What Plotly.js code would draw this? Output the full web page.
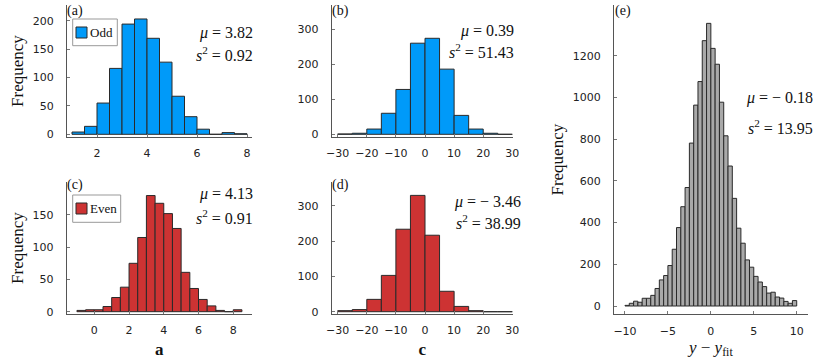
<!DOCTYPE html>
<html>
<head>
<meta charset="utf-8">
<script src="https://cdn.plot.ly/plotly-3.0.1.min.js"></script>
<style>
  html, body { margin: 0; padding: 0; background: #fff; }
  #chart { width: 830px; height: 363px; }
</style>
</head>
<body>
<div id="chart"></div>
<script>
// histogram counts, one array per panel
// (a) / (c): variable a, bins of 0.5
var oddAStart = 1;
var evenAStart = -1;
var aWidth = 0.5;
var oddA = [4, 14, 55, 116, 194, 203, 169, 127, 67, 31, 9, 0, 3, 1];
var evenA = [2, 3, 3, 8, 22, 38, 75, 115, 180, 168, 152, 129, 61, 36, 19, 9, 2, 0, 3];

// (b) / (d): variable c, bins of 5
var cStart = -30;
var cWidth = 5;
var oddC = [1, 3, 15, 60, 128, 260, 274, 186, 54, 15, 3, 0];
var evenC = [3, 6, 35, 103, 234, 330, 217, 58, 15, 3, 0, 0];

// (e): residuals y - y_fit, bins of 0.5
var residStart = -10;
var residWidth = 0.5;
var resid = [3, 13, 23, 18, 37, 37, 51, 84, 125, 146, 194, 272, 376, 476, 568,
             781, 963, 1076, 1272, 1355, 1235, 1159, 977, 816, 671,
             516, 373, 301, 221, 186, 142, 115, 93, 62, 66, 43, 38, 22, 13, 26];

// summary stats printed on each panel
var statsMu = ['3.82', '0.39', '4.13', '\u2212 3.46', '\u2212 0.18'];
var statsS2 = ['0.92', '51.43', '0.91', '38.99', '13.95'];

var blue = '#009af9';
var red = '#cd3333';
var grey = '#a9a9a9';
var edge = '#2a2a2a';

function centers(start, width, counts) {
    return counts.map(function (c, i) { return start + width * (i + 0.5); });
}

function histTrace(start, width, counts, color, xa, ya) {
    return {
        type: 'bar',
        x: centers(start, width, counts),
        y: counts,
        width: width,
        xaxis: xa,
        yaxis: ya,
        marker: { color: color, line: { color: edge, width: 1 } },
        showlegend: false,
        hoverinfo: 'x+y'
    };
}

var data = [
    histTrace(oddAStart, aWidth, oddA, blue, 'x', 'y'),
    histTrace(cStart, cWidth, oddC, blue, 'x2', 'y2'),
    histTrace(evenAStart, aWidth, evenA, red, 'x3', 'y3'),
    histTrace(cStart, cWidth, evenC, red, 'x4', 'y4'),
    histTrace(residStart, residWidth, resid, grey, 'x5', 'y5')
];

// pixel -> paper helpers (page is 830 x 363, no margins)
var W = 830, H = 363;
function px(x) { return x / W; }
function py(y) { return 1 - y / H; }

var tickFont = { family: 'DejaVu Sans', size: 11, color: '#222' };
var serif = 'Liberation Serif, DejaVu Serif, serif';

function axis(extra) {
    var a = {
        showline: true,
        linecolor: '#555',
        linewidth: 1,
        showgrid: false,
        zeroline: false,
        ticks: 'inside',
        ticklen: 3,
        tickcolor: '#777',
        tickfont: tickFont,
        fixedrange: true
    };
    for (var k in extra) a[k] = extra[k];
    return a;
}
function xax(extra) { extra.ticklabelstandoff = 6; return axis(extra); }
function yax(extra) { extra.ticklabelstandoff = 10; return axis(extra); }

var freqTitle = { text: 'Frequency', font: { family: serif, size: 17, color: '#111' }, standoff: 4 };
var xTitleFont = { family: serif, size: 17, color: '#111' };

var layout = {
    width: W,
    height: H,
    margin: { l: 0, r: 0, t: 0, b: 0 },
    paper_bgcolor: '#fff',
    plot_bgcolor: '#fff',
    bargap: 0,
    xaxis: xax({ domain: [px(67), px(252)], range: [0.8, 8.2], tickvals: [2, 4, 6, 8], anchor: 'y' }),
    yaxis: yax({ domain: [py(137), py(5)], range: [-4.75, 227.6], tickvals: [0, 50, 100, 150, 200], anchor: 'x',
                 title: freqTitle }),
    xaxis2: xax({ domain: [px(331.7), px(512.9)], range: [-32.06, 30.2], tickvals: [-30, -20, -10, 0, 10, 20, 30], anchor: 'y2' }),
    yaxis2: yax({ domain: [py(137), py(5)], range: [-7.7, 369], tickvals: [0, 100, 200, 300], anchor: 'x2' }),
    xaxis3: xax({ domain: [px(66.7), px(252)], range: [-1.59, 9.08], tickvals: [0, 2, 4, 6, 8], anchor: 'y3',
                  title: { text: '<b>a</b>', font: xTitleFont, standoff: 6 } }),
    yaxis3: yax({ domain: [py(314), py(182)], range: [-3.57, 201], tickvals: [0, 50, 100, 150], anchor: 'x3',
                  title: freqTitle }),
    xaxis4: xax({ domain: [px(331.7), px(512.9)], range: [-32.06, 30.2], tickvals: [-30, -20, -10, 0, 10, 20, 30], anchor: 'y4',
                  title: { text: '<b>c</b>', font: xTitleFont, standoff: 6 } }),
    yaxis4: yax({ domain: [py(314), py(182)], range: [-6.5, 368], tickvals: [0, 100, 200, 300], anchor: 'x4' }),
    xaxis5: xax({ domain: [px(614), px(807.7)], range: [-11.28, 11.28], tickvals: [-10, -5, 0, 5, 10], anchor: 'y5',
                  title: { text: '<i>y</i> \u2212 <i>y</i><sub>fit</sub>', font: xTitleFont, standoff: 4 } }),
    yaxis5: yax({ domain: [py(314.3), py(5)], range: [-39.8, 1443], tickvals: [0, 200, 400, 600, 800, 1000, 1200], anchor: 'x5',
                  title: freqTitle }),
    shapes: [],
    annotations: []
};

// panel letters
var letters = [['(a)', 65, 11], ['(b)', 330, 11], ['(c)', 65, 185], ['(d)', 330, 185], ['(e)', 613, 11]];
letters.forEach(function (l) {
    layout.annotations.push({
        text: l[0], xref: 'paper', yref: 'paper', x: px(l[1]), y: py(l[2]),
        xanchor: 'left', yanchor: 'middle', showarrow: false,
        font: { family: serif, size: 14, color: '#111' }
    });
});

// mean / variance text, right aligned
var statPos = [[255, 33, 54], [516, 31, 51], [255, 194, 217], [523, 202, 222], [815, 98, 127]];
statPos.forEach(function (p, i) {
    var f = { family: serif, size: 16, color: '#111' };
    layout.annotations.push({
        text: '<i>\u03bc</i> = ' + statsMu[i], xref: 'paper', yref: 'paper',
        x: px(p[0]), y: py(p[1]), xanchor: 'right', yanchor: 'middle', showarrow: false, font: f
    });
    layout.annotations.push({
        text: '<i>s</i><sup>2</sup> = ' + statsS2[i], xref: 'paper', yref: 'paper',
        x: px(p[0]), y: py(p[2]), xanchor: 'right', yanchor: 'middle', showarrow: false, font: f
    });
});

// legend boxes (drawn by hand, plotly's legend is too wide here)
var legends = [
    { label: 'Odd', color: blue, box: [72.7, 19, 117.3, 45.7], sw: [76, 27, 87, 38] },
    { label: 'Even', color: red, box: [72.7, 195, 120.7, 222.3], sw: [76, 203, 87, 214] }
];
legends.forEach(function (lg) {
    layout.shapes.push({
        type: 'rect', xref: 'paper', yref: 'paper',
        x0: px(lg.box[0]), x1: px(lg.box[2]), y0: py(lg.box[3]), y1: py(lg.box[1]),
        fillcolor: '#fff', line: { color: '#999', width: 1 }
    });
    layout.shapes.push({
        type: 'rect', xref: 'paper', yref: 'paper',
        x0: px(lg.sw[0]), x1: px(lg.sw[2]), y0: py(lg.sw[3]), y1: py(lg.sw[1]),
        fillcolor: lg.color, line: { color: edge, width: 1 }
    });
    layout.annotations.push({
        text: lg.label, xref: 'paper', yref: 'paper',
        x: px(lg.sw[2] + 1), y: py((lg.sw[1] + lg.sw[3]) / 2),
        xanchor: 'left', yanchor: 'middle', showarrow: false,
        font: { family: serif, size: 13, color: '#111' }
    });
});

Plotly.newPlot('chart', data, layout, { displayModeBar: false, staticPlot: true });
</script>
</body>
</html>
